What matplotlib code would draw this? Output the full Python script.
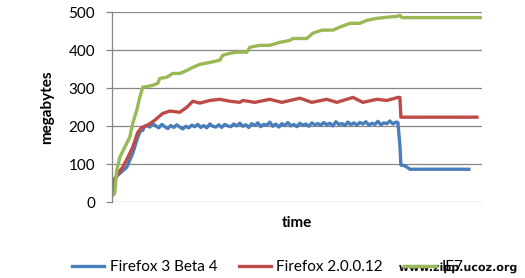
import matplotlib
matplotlib.use("Agg")
import matplotlib.pyplot as plt
import matplotlib.patheffects as pe
import numpy as np

# series labels
labels = ["Firefox 3 Beta 4", "Firefox 2.0.0.12", "IE7"]
colors = ["#4A7EBB", "#BE4B48", "#98B954"]

# IE7 (green): (time, megabytes)
ie_t = [0, 3, 5, 8, 13, 18, 21, 25, 28, 31, 36, 41, 46, 48, 55, 61, 68, 75, 81,
        88, 98, 108, 111, 118, 125, 135, 138, 148, 158, 168, 178, 181, 195, 201,
        210, 221, 228, 238, 248, 255, 265, 275, 285, 288, 290, 371]
ie_mb = [15, 24, 84, 118, 145, 171, 208, 242, 276, 303, 305, 308, 313, 326, 329,
         339, 339, 347, 355, 363, 368, 374, 387, 392, 395, 395, 408, 413, 413,
         421, 426, 431, 431, 445, 453, 453, 461, 471, 471, 479, 484, 487, 489,
         492, 486, 486]

# Firefox 2.0.0.12 (red)
ff2_t = [0, 1, 3, 6, 11, 16, 21, 26, 30, 36, 43, 51, 58, 68, 75, 81, 88, 98, 108,
         118, 128, 131, 143, 158, 170, 188, 200, 215, 225, 241, 251, 265, 275,
         286, 288, 289, 365]
ff2_mb = [20, 32, 60, 76, 92, 118, 145, 184, 197, 203, 216, 234, 240, 237, 250,
          266, 261, 268, 271, 266, 263, 268, 263, 271, 263, 274, 263, 271, 263,
          276, 263, 271, 268, 276, 276, 224, 224]

# Firefox 3 Beta 4 (blue): ramp, noisy plateau (every 3 time units from t=32), drop
ff3_ramp_t = [0, 3, 8, 15, 21, 26, 30, 31]
ff3_ramp_mb = [24, 63, 76, 92, 129, 171, 195, 189]
ff3_plateau = [197, 203, 198, 207, 201, 196, 205, 199, 194, 202, 197, 204, 198, 193,
               200, 196, 203, 199, 205, 197, 202, 196, 206, 200, 198, 204, 197, 205,
               201,
               199, 206, 201, 208, 200, 204, 197, 207, 202, 209, 199, 205, 203, 211,
               200, 206, 198, 207, 202, 210, 201, 205, 199, 208, 203, 206, 200, 209,
               204, 207,
               203, 210, 204, 208, 201, 212, 205, 207, 202, 211, 204, 209, 203, 210,
               206, 212, 203, 208, 205, 213, 204, 209, 207, 214, 206, 211]
ff3_drop_t = [286, 288, 289, 293, 298, 357]
ff3_drop_mb = [210, 150, 98, 96, 87, 87]

ff3_t = ff3_ramp_t + list(32 + 3 * np.arange(len(ff3_plateau))) + ff3_drop_t
ff3_mb = ff3_ramp_mb + ff3_plateau + ff3_drop_mb

plt.rcParams['font.family'] = ['Lato', 'DejaVu Sans']

fig = plt.figure(figsize=(5.25, 2.78), dpi=100)
ax = fig.add_axes([0.2128, 0.2723, 0.918 - 0.2128, 0.9558 - 0.2723])

lines = []
for t, mb, c, lab in [(ff3_t, ff3_mb, colors[0], labels[0]),
                      (ff2_t, ff2_mb, colors[1], labels[1]),
                      (ie_t, ie_mb, colors[2], labels[2])]:
    ln, = ax.plot(t, mb, color=c, lw=2.4, label=lab, solid_joinstyle="round")
    lines.append(ln)
ax.set_xlim(0, 370)
ax.set_ylim(0, 500)
ax.set_yticks([0, 100, 200, 300, 400, 500])
ax.set_xticks([])
ax.grid(axis="y", color="#868686", lw=0.9)
ax.set_axisbelow(True)
for s in ["top", "right", "bottom"]:
    ax.spines[s].set_visible(False)
ax.spines["left"].set_color("#868686")
ax.spines["left"].set_linewidth(0.9)
ax.tick_params(axis="y", length=4, width=0.9, color="#868686", pad=8,
               labelsize=11)
ax.set_ylabel("megabytes", fontsize=11, fontweight="bold", labelpad=10)
ax.set_xlabel("time", fontsize=11, fontweight="bold", labelpad=10)

fig.legend(handles=lines, loc="center", bbox_to_anchor=(0.51, 0.04), ncol=3,
           frameon=False, fontsize=11, handlelength=2.1, handletextpad=0.35,
           columnspacing=1.4)

# watermark over the last legend entry, as in the source image
fig.text(0.872, 0.036, "www.zipp.ucoz.org", fontsize=8, fontweight="bold",
         family="DejaVu Sans", ha="center", va="center", color="#111111",
         path_effects=[pe.withStroke(linewidth=2, foreground="white")])

fig.savefig("out.png", dpi=100)
